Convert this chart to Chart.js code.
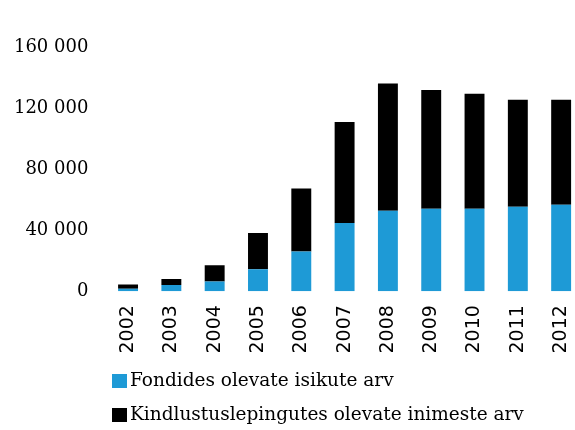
<!DOCTYPE html>
<html>
<head>
<meta charset="utf-8">
<script src="https://cdn.jsdelivr.net/npm/chart.js@4/dist/chart.umd.min.js"></script>
<style>
  html, body { margin: 0; padding: 0; background: #fff; }
  #wrap { width: 575px; height: 430px; position: relative; }
</style>
</head>
<body>
<div id="wrap"><canvas id="chart"></canvas></div>
<script>
// data
const years = ["2002", "2003", "2004", "2005", "2006", "2007", "2008", "2009", "2010", "2011", "2012"];
const fondides = [1500, 4000, 6400, 14300, 26000, 44700, 52700, 54000, 54000, 55300, 56700];
const kindlustus = [2900, 4000, 10600, 23800, 41200, 66200, 83300, 77800, 75400, 70100, 68700];
const yTicks = [0, 40000, 80000, 120000, 160000];

const blue = "#1e9ad6";
const black = "#000000";

// legend drawn by hand so both rows line up on the left
const leftLegend = {
  id: "leftLegend",
  afterDraw(chart) {
    const ctx = chart.ctx;
    const rows = [381, 415];
    ctx.save();
    ctx.font = "18.5px 'DejaVu Serif'";
    ctx.textBaseline = "middle";
    ctx.textAlign = "left";
    chart.data.datasets.forEach(function (ds, i) {
      const y = rows[i];
      ctx.fillStyle = ds.backgroundColor;
      ctx.fillRect(112, y - 7, 15, 14);
      ctx.fillStyle = "#000";
      ctx.fillText(ds.label, 130, y);
    });
    ctx.restore();
  },
};

const ctx = document.getElementById("chart").getContext("2d");
const chart = new Chart(ctx, {
  type: "bar",
  data: {
    labels: years,
    datasets: [
      {
        label: "Fondides olevate isikute arv",
        data: fondides,
        backgroundColor: blue,
        categoryPercentage: 1,
        barPercentage: 0.46,
      },
      {
        label: "Kindlustuslepingutes olevate inimeste arv",
        data: kindlustus,
        backgroundColor: black,
        categoryPercentage: 1,
        barPercentage: 0.46,
      },
    ],
  },
  options: {
    responsive: true,
    maintainAspectRatio: false,
    animation: false,
    layout: {
      padding: { top: 47, left: 8, right: 0, bottom: 62.5 },
    },
    scales: {
      x: {
        // linear so the last bar can sit close to the canvas edge
        type: "linear",
        stacked: true,
        offset: false,
        min: 2001.5,
        max: 2012.32,
        grid: { display: false, drawTicks: false },
        border: { display: false },
        afterBuildTicks: function (scale) {
          scale.ticks = years.map(function (y) { return { value: +y }; });
        },
        afterFit: function (scale) {
          scale.paddingRight = 0;
          scale.paddingLeft = 0;
        },
        ticks: {
          minRotation: 90,
          maxRotation: 90,
          padding: 14,
          color: "#000",
          font: { family: "'DejaVu Sans'", size: 19 },
          callback: function (v) {
            return String(v);
          },
        },
      },
      y: {
        stacked: true,
        min: 0,
        max: 160000,
        grid: { display: false, drawTicks: false },
        border: { display: false },
        afterBuildTicks: function (scale) {
          scale.ticks = yTicks.map(function (v) { return { value: v }; });
        },
        afterFit: function (scale) {
          scale.width = 98.4;
        },
        ticks: {
          padding: 18,
          color: "#000",
          font: { family: "'DejaVu Serif'", size: 18 },
          callback: function (v) {
            return String(v).replace(/\B(?=(\d{3})+(?!\d))/g, " ");
          },
        },
      },
    },
    plugins: {
      legend: { display: false },
      tooltip: { enabled: false },
    },
  },
  plugins: [leftLegend],
});
</script>
</body>
</html>
